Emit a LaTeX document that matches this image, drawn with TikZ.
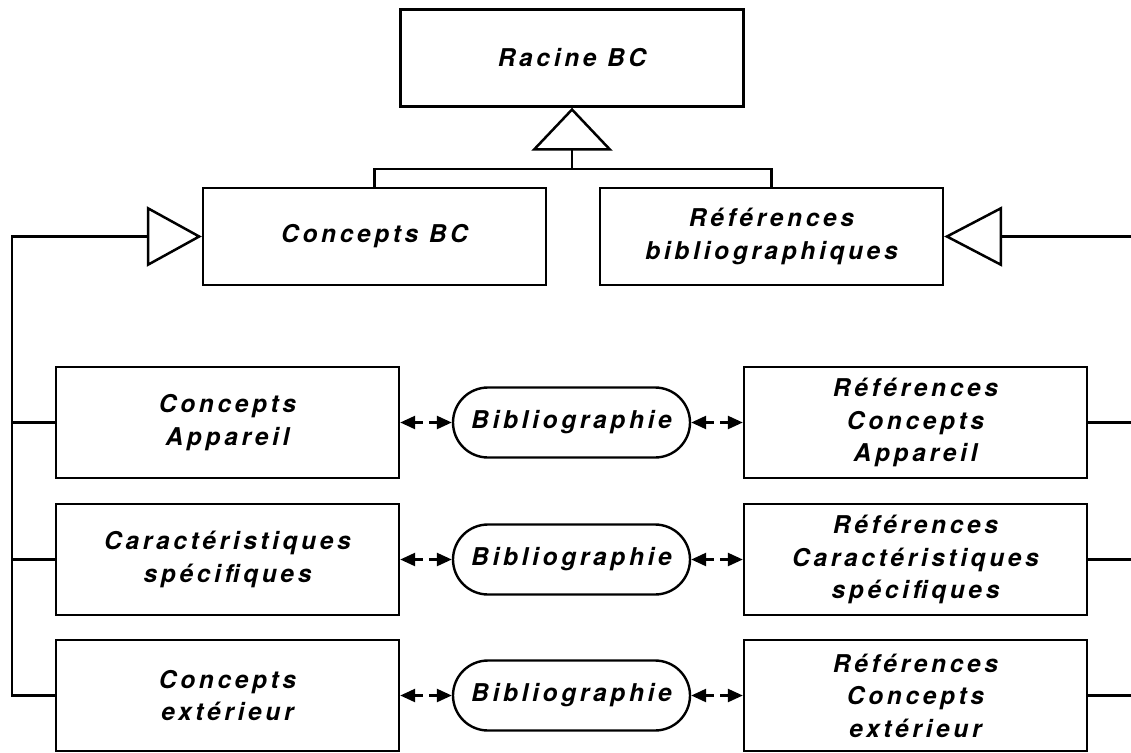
\documentclass[tikz,border=0pt]{standalone}
\usepackage{fontspec}
\newfontfamily\labelfont{texgyreheros-bolditalic.otf}[LetterSpace=15]
\usetikzlibrary{arrows.meta,calc}

\begin{document}
\begin{tikzpicture}[x=1pt,y=-1pt,
  every node/.style={font=\fontsize{24.5}{32.5}\labelfont, align=center, inner sep=0pt},
  cbox/.style={draw, line width=2.4pt, minimum width=343pt, minimum height=111pt},
  topbox/.style={draw, line width=2.4pt, minimum width=343pt, minimum height=97pt},
  biblio/.style={draw, line width=2.4pt, minimum width=237pt, minimum height=70pt, rounded corners=35pt},
  link/.style={line width=2.5pt},
  gentip/.style={line width=2.5pt, -{Triangle[open, length=#1, width=60pt]}},
  bitip/.style={line width=2.5pt, -{Triangle[length=15pt, width=13pt]}}
]
\useasboundingbox[fill=white] (0,0) rectangle (1131,752);

% root and the two main branches
\node[topbox] (root) at (572,58) {Racine BC};
\node[topbox] (cbc)  at (374.5,236.5) {Concepts BC};
\node[topbox] (rbib) at (771.5,236.5) {Références\\bibliographiques};

% generalisation to the root
\coordinate (hub) at (572,169);
\draw[link] (cbc.north) |- (hub) -| (rbib.north);
\draw[line width=2.5pt, -{Triangle[open, length=43pt, width=81pt]}] (hub) -- (root.south);

% concept rows (left), bibliography links (middle), reference rows (right)
\node[cbox] (cl1) at (227.5,422.5) {Concepts\\Appareil};
\node[cbox] (cl2) at (227.5,559.5) {Caractéristiques\\spécifiques};
\node[cbox] (cl3) at (227.5,695.5) {Concepts\\extérieur};

\node[biblio] (b1) at (571.5,422.5) {Bibliographie};
\node[biblio] (b2) at (571.5,559.5) {Bibliographie};
\node[biblio] (b3) at (571.5,695.5) {Bibliographie};

\node[cbox] (cr1) at (915.5,422.5) {Références\\Concepts\\Appareil};
\node[cbox] (cr2) at (915.5,559.5) {Références\\Caractéristiques\\spécifiques};
\node[cbox] (cr3) at (915.5,695.5) {Références\\Concepts\\extérieur};

% left bus into Concepts BC
\coordinate (lbus) at (12,236.5);
\draw[link] (cl1.west) -- (cl1.west -| lbus);
\draw[link] (cl2.west) -- (cl2.west -| lbus);
\draw[gentip=55pt] (cl3.west) -| (lbus) -- (cbc.west);

% right bus into Références bibliographiques
\coordinate (rbus) at (1131,236.5);
\draw[gentip=58pt] (rbus) -- (rbib.east);
\draw[link] (cr1.east) -- (cr1.east -| rbus);
\draw[link] (cr2.east) -- (cr2.east -| rbus);
\draw[link] (cr3.east) -- (cr3.east -| rbus);

% split double arrows between the boxes and the bibliography nodes
\foreach \i in {1,2,3} {
  \coordinate (la\i) at ($(cl\i.east)!0.44!(b\i.west)$);
  \coordinate (lb\i) at ($(cl\i.east)!0.56!(b\i.west)$);
  \coordinate (ra\i) at ($(b\i.east)!0.44!(cr\i.west)$);
  \coordinate (rb\i) at ($(b\i.east)!0.56!(cr\i.west)$);
  \draw[bitip] (la\i) -- (cl\i.east);
  \draw[bitip] (lb\i) -- (b\i.west);
  \draw[bitip] (ra\i) -- (b\i.east);
  \draw[bitip] (rb\i) -- (cr\i.west);
}
\end{tikzpicture}
\end{document}
